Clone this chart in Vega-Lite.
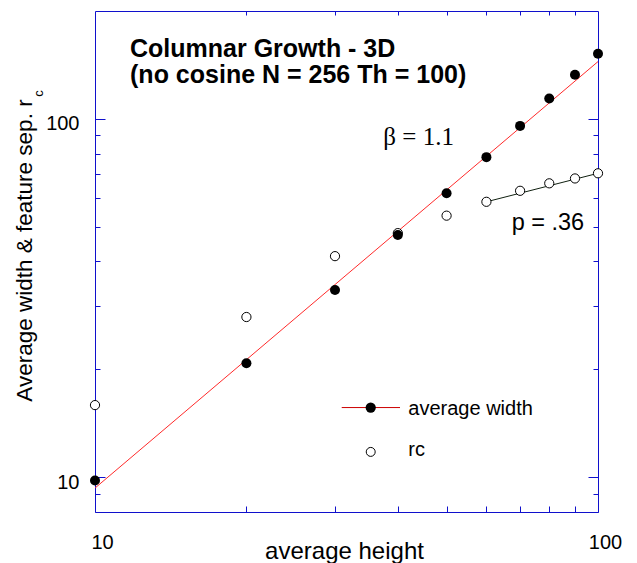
{
  "$schema": "https://vega.github.io/schema/vega-lite/v6.json",
  "width": 503,
  "height": 501,
  "autosize": {"type": "none"},
  "padding": {"left": 95, "top": 11, "right": 39, "bottom": 51},
  "background": "white",
  "config": {
    "view": {"stroke": "#1010cc", "strokeWidth": 1},
    "axis": {"grid": false, "domain": false, "tickColor": "#1010cc", "labelColor": "black", "titleColor": "black", "labelFont": "Liberation Sans", "titleFont": "Liberation Sans", "titleFontWeight": "normal"}
  },
  "resolve": {"axis": {"x": "independent", "y": "independent"}},
  "layer": [
    {
      "data": {"values": [{"h": 10, "w": 9.33}, {"h": 100, "w": 144.5}]},
      "mark": {"type": "line", "color": "#ff2a2a", "strokeWidth": 1},
      "encoding": {
        "x": {"field": "h", "type": "quantitative", "scale": {"type": "log", "domain": [10, 100], "nice": false},
          "axis": {"orient": "bottom", "values": [10, 20, 30, 40, 50, 60, 70, 80, 90, 100],
            "tickSize": {"condition": {"test": "datum.value == 10 || datum.value == 100", "value": -10}, "value": -6},
            "format": "d", "labelExpr": "datum.value == 10 || datum.value == 100 ? datum.label : ''",
            "labelFontSize": 20, "labelBaseline": "alphabetic", "labelPadding": 46, "labelOffset": 7, "labelFlush": false, "labelOverlap": false,
            "title": "average height", "titleFontSize": 24, "titleX": 249, "titleY": 46, "titleBaseline": "alphabetic", "titleAlign": "center"}},
        "y": {"field": "w", "type": "quantitative", "scale": {"type": "log", "domain": [8, 200], "nice": false},
          "axis": {"orient": "left", "values": [9, 10, 20, 30, 40, 50, 60, 70, 80, 90, 100],
            "tickSize": {"condition": {"test": "datum.value == 10 || datum.value == 100", "value": -10}, "value": -5},
            "format": "d", "labelExpr": "datum.value == 10 || datum.value == 100 ? datum.label : ''",
            "labelFontSize": 20, "labelBaseline": "middle", "labelPadding": 26, "labelOffset": 5, "labelFlush": false, "labelOverlap": false,
            "title": "Average width & feature sep. r", "titleFontSize": 22.5, "titleX": -64, "titleY": 239, "titleAngle": 270, "titleBaseline": "alphabetic", "titleAlign": "center"}}
      }
    },
    {
      "data": {"values": [{"h": 60, "w": 58.7}, {"h": 100, "w": 70.5}]},
      "mark": {"type": "line", "color": "#102010", "strokeWidth": 1},
      "encoding": {
        "x": {"field": "h", "type": "quantitative", "scale": {"type": "log", "domain": [10, 100], "nice": false}, "axis": null},
        "y": {"field": "w", "type": "quantitative", "scale": {"type": "log", "domain": [8, 200], "nice": false}, "axis": null}
      }
    },
    {
      "data": {"values": [
        {"h": 10, "w": 15.9}, {"h": 20, "w": 28.0}, {"h": 30, "w": 41.4}, {"h": 40, "w": 48.0}, {"h": 50, "w": 53.7},
        {"h": 60, "w": 58.7}, {"h": 70, "w": 63.0}, {"h": 80, "w": 66.1}, {"h": 90, "w": 68.2}, {"h": 100, "w": 70.5}
      ]},
      "mark": {"type": "point", "shape": "circle", "filled": false, "fill": "white", "fillOpacity": 1, "stroke": "black", "strokeWidth": 1, "opacity": 1, "size": 85},
      "encoding": {
        "x": {"field": "h", "type": "quantitative", "scale": {"type": "log", "domain": [10, 100], "nice": false},
          "axis": {"orient": "top", "values": [20, 30, 40, 50, 60, 70, 80, 90], "tickSize": -4, "labels": false, "title": null}},
        "y": {"field": "w", "type": "quantitative", "scale": {"type": "log", "domain": [8, 200], "nice": false},
          "axis": {"orient": "right", "values": [9, 10, 20, 30, 40, 50, 60, 70, 80, 90, 100],
            "tickSize": {"condition": {"test": "datum.value == 10 || datum.value == 100", "value": -10}, "value": -5},
            "labels": false, "title": null}}
      }
    },
    {
      "data": {"values": [
        {"h": 10, "w": 9.8}, {"h": 20, "w": 20.8}, {"h": 30, "w": 33.3}, {"h": 40, "w": 47.4}, {"h": 50, "w": 62.0},
        {"h": 60, "w": 78.2}, {"h": 70, "w": 95.6}, {"h": 80, "w": 114}, {"h": 90, "w": 132.8}, {"h": 100, "w": 152}
      ]},
      "mark": {"type": "point", "shape": "circle", "filled": true, "color": "black", "opacity": 1, "size": 100},
      "encoding": {
        "x": {"field": "h", "type": "quantitative", "scale": {"type": "log", "domain": [10, 100], "nice": false}, "axis": null},
        "y": {"field": "w", "type": "quantitative", "scale": {"type": "log", "domain": [8, 200], "nice": false}, "axis": null}
      }
    },
    {
      "data": {"values": [{"h": 30.94, "w": 15.65}, {"h": 40.4, "w": 15.65}]},
      "mark": {"type": "line", "color": "#cc0000", "strokeWidth": 1},
      "encoding": {
        "x": {"field": "h", "type": "quantitative", "scale": {"type": "log", "domain": [10, 100], "nice": false}, "axis": null},
        "y": {"field": "w", "type": "quantitative", "scale": {"type": "log", "domain": [8, 200], "nice": false}, "axis": null}
      }
    },
    {
      "data": {"values": [{"h": 35.33, "w": 15.65}]},
      "mark": {"type": "point", "shape": "circle", "filled": true, "color": "black", "opacity": 1, "size": 105},
      "encoding": {
        "x": {"field": "h", "type": "quantitative", "scale": {"type": "log", "domain": [10, 100], "nice": false}, "axis": null},
        "y": {"field": "w", "type": "quantitative", "scale": {"type": "log", "domain": [8, 200], "nice": false}, "axis": null}
      }
    },
    {
      "data": {"values": [{"h": 35.33, "w": 11.77}]},
      "mark": {"type": "point", "shape": "circle", "filled": false, "fill": "white", "fillOpacity": 1, "stroke": "black", "strokeWidth": 1, "opacity": 1, "size": 80},
      "encoding": {
        "x": {"field": "h", "type": "quantitative", "scale": {"type": "log", "domain": [10, 100], "nice": false}, "axis": null},
        "y": {"field": "w", "type": "quantitative", "scale": {"type": "log", "domain": [8, 200], "nice": false}, "axis": null}
      }
    },
    {
      "data": {"values": [{"h": 41.97, "w": 14.9, "t": "average width"}, {"h": 41.97, "w": 11.47, "t": "rc"}]},
      "mark": {"type": "text", "font": "Liberation Sans", "fontSize": 20, "align": "left", "baseline": "alphabetic", "color": "black"},
      "encoding": {
        "x": {"field": "h", "type": "quantitative", "scale": {"type": "log", "domain": [10, 100], "nice": false}, "axis": null},
        "y": {"field": "w", "type": "quantitative", "scale": {"type": "log", "domain": [8, 200], "nice": false}, "axis": null},
        "text": {"field": "t"}
      }
    },
    {
      "data": {"values": [{"h": 11.74, "w": 149.3, "t": "Columnar Growth - 3D"}, {"h": 11.74, "w": 125.8, "t": "(no cosine N = 256 Th = 100)"}]},
      "mark": {"type": "text", "font": "Liberation Sans", "fontSize": 25, "fontWeight": "bold", "align": "left", "baseline": "alphabetic", "color": "black"},
      "encoding": {
        "x": {"field": "h", "type": "quantitative", "scale": {"type": "log", "domain": [10, 100], "nice": false}, "axis": null},
        "y": {"field": "w", "type": "quantitative", "scale": {"type": "log", "domain": [8, 200], "nice": false}, "axis": null},
        "text": {"field": "t"}
      }
    },
    {
      "data": {"values": [{"h": 37.43, "w": 84.6, "t": "β = 1.1"}]},
      "mark": {"type": "text", "font": "Liberation Serif", "fontSize": 25, "align": "left", "baseline": "alphabetic", "color": "black"},
      "encoding": {
        "x": {"field": "h", "type": "quantitative", "scale": {"type": "log", "domain": [10, 100], "nice": false}, "axis": null},
        "y": {"field": "w", "type": "quantitative", "scale": {"type": "log", "domain": [8, 200], "nice": false}, "axis": null},
        "text": {"field": "t"}
      }
    },
    {
      "data": {"values": [{"h": 67.35, "w": 48.98, "t": "p = .36"}]},
      "mark": {"type": "text", "font": "Liberation Sans", "fontSize": 23.5, "align": "left", "baseline": "alphabetic", "color": "black"},
      "encoding": {
        "x": {"field": "h", "type": "quantitative", "scale": {"type": "log", "domain": [10, 100], "nice": false}, "axis": null},
        "y": {"field": "w", "type": "quantitative", "scale": {"type": "log", "domain": [8, 200], "nice": false}, "axis": null},
        "text": {"field": "t"}
      }
    },
    {
      "data": {"values": [{"h": 7.88, "w": 115.2, "t": "c"}]},
      "mark": {"type": "text", "font": "Liberation Sans", "fontSize": 13, "angle": 270, "align": "left", "baseline": "alphabetic", "color": "black"},
      "encoding": {
        "x": {"field": "h", "type": "quantitative", "scale": {"type": "log", "domain": [10, 100], "nice": false}, "axis": null},
        "y": {"field": "w", "type": "quantitative", "scale": {"type": "log", "domain": [8, 200], "nice": false}, "axis": null},
        "text": {"field": "t"}
      }
    }
  ]
}
